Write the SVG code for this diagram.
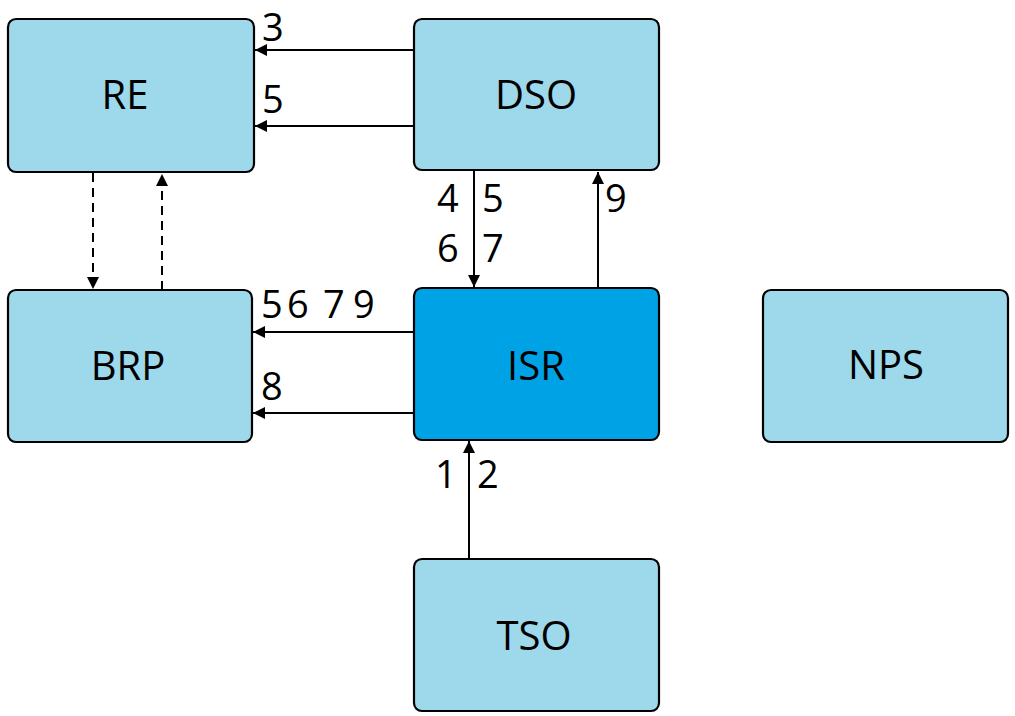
<svg xmlns="http://www.w3.org/2000/svg" width="1015" height="716" viewBox="0 0 1015 716">
<defs>
<marker id="ah" viewBox="0 0 10 10" refX="10" refY="5" markerWidth="6" markerHeight="6" orient="auto" markerUnits="strokeWidth">
<path d="M0,0 L10,5 L0,10 z" fill="#000"/>
</marker>
<style>
.box{fill:#9dd9ea;stroke:#000;stroke-width:2.2}
.isr{fill:#00a2e6}
.t{font-family:"Open Sans","DejaVu Sans",sans-serif;font-size:40px;fill:#000;text-anchor:middle}
.n{font-family:"Open Sans","DejaVu Sans",sans-serif;font-size:38px;fill:#000}
.c{stroke:#000;stroke-width:2;fill:none;marker-end:url(#ah)}
.d{stroke-dasharray:9,6}
</style>
</defs>
<rect width="1015" height="716" fill="#fff"/>
<g id="RE"><rect class="box" x="8" y="19" width="246" height="153" rx="8"/><text class="t" x="125" y="109">RE</text></g>
<g id="DSO"><rect class="box" x="414" y="19" width="245" height="151" rx="8"/><text class="t" x="536" y="109">DSO</text></g>
<g id="BRP"><rect class="box" x="8" y="290" width="244" height="152" rx="8"/><text class="t" x="128" y="380">BRP</text></g>
<g id="ISR"><rect class="box isr" x="414" y="288" width="245" height="152" rx="8"/><text class="t" x="536" y="380">ISR</text></g>
<g id="NPS"><rect class="box" x="763" y="290" width="245" height="152" rx="8"/><text class="t" x="886" y="379">NPS</text></g>
<g id="TSO"><rect class="box" x="414" y="559" width="245" height="152" rx="8"/><text class="t" x="534" y="650">TSO</text></g>
<g id="connectors">
<line class="c" x1="414" y1="50" x2="255" y2="50"/>
<line class="c" x1="414" y1="126" x2="255" y2="126"/>
<line class="c d" x1="93" y1="173" x2="93" y2="289"/>
<line class="c d" x1="162" y1="290" x2="162" y2="174"/>
<line class="c" x1="474" y1="170" x2="474" y2="287"/>
<line class="c" x1="598" y1="288" x2="598" y2="172"/>
<line class="c" x1="414" y1="332" x2="253" y2="332"/>
<line class="c" x1="414" y1="413" x2="253" y2="413"/>
<line class="c" x1="469" y1="559" x2="469" y2="441"/>
</g>
<g id="labels">
<text class="n" x="262" y="41">3</text>
<text class="n" x="262" y="113">5</text>
<text class="n" x="437" y="212">4</text>
<text class="n" x="482" y="212">5</text>
<text class="n" x="437" y="262">6</text>
<text class="n" x="482" y="262">7</text>
<text class="n" x="605" y="212">9</text>
<text class="n" x="261" y="318">5</text>
<text class="n" x="287" y="318">6</text>
<text class="n" x="323" y="318">7</text>
<text class="n" x="353" y="318">9</text>
<text class="n" x="261" y="400">8</text>
<text class="n" x="435" y="488">1</text>
<text class="n" x="477" y="488">2</text>
</g>
</svg>
